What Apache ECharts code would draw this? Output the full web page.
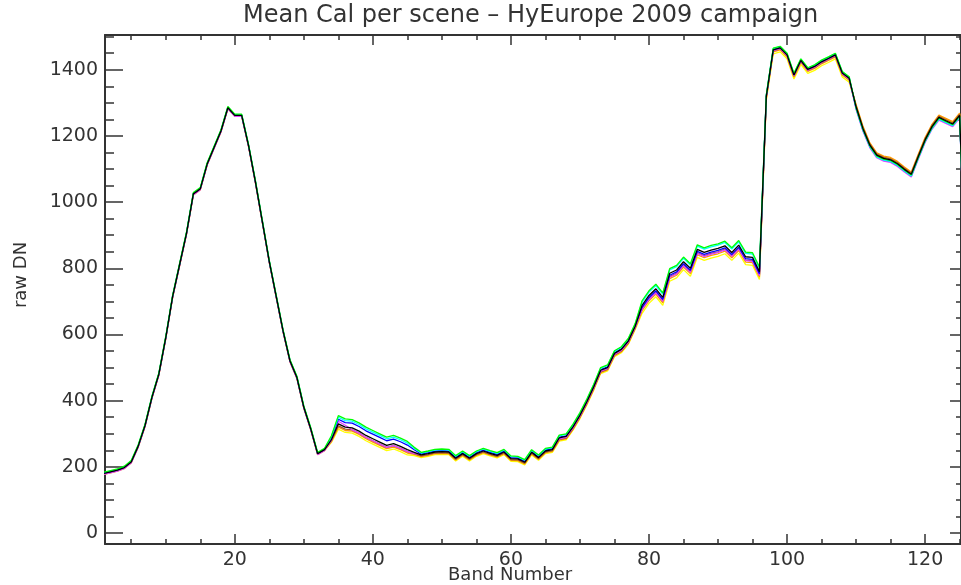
<!DOCTYPE html>
<html>
<head>
<meta charset="utf-8">
<script src="https://cdn.jsdelivr.net/npm/echarts@6/dist/echarts.min.js"></script>
<style>html,body{margin:0;padding:0;background:#fff;}#c{width:961px;height:585px;}</style>
</head>
<body>
<div id="c"></div>
<script>
// Band numbers 1..126
const bands = [1,2,3,4,5,6,7,8,9,10,11,12,13,14,15,16,17,18,19,20,21,22,23,24,25,26,27,28,29,30,31,32,33,34,35,36,37,38,39,40,41,42,43,44,45,46,47,48,49,50,51,52,53,54,55,56,57,58,59,60,61,62,63,64,65,66,67,68,69,70,71,72,73,74,75,76,77,78,79,80,81,82,83,84,85,86,87,88,89,90,91,92,93,94,95,96,97,98,99,100,101,102,103,104,105,106,107,108,109,110,111,112,113,114,115,116,117,118,119,120,121,122,123,124,125,126];

const xMajorTicks = [20,40,60,80,100,120];
const xMinorTicks = [5,10,15,25,30,35,45,50,55,65,70,75,85,90,95,105,110,115,125];
const yMajorTicks = [0,200,400,600,800,1000,1200,1400];
const yMinorTicks = [50,100,150,250,300,350,450,500,550,650,700,750,850,900,950,1050,1100,1150,1250,1300,1350,1450,1500];

const sceneBlack = [180,185,190,198,215,262,325,410,480,590,715,810,905,1025,1040,1115,1165,1215,1285,1262,1262,1170,1060,940,820,715,610,520,470,380,315,240,252,
282,330,320,318,308,295,285,275,265,270,262,252,244,
236,240,245,246,245,226,240,226,240,248,241,235,245,225,224,214,244,228,248,252,
288,292,321,356,397,442,492,500,543,555,580,625,
688,718,738,712,785,795,820,800,857,848,855,860,868,848,870,835,833,790,
1320,1460,1466,1445,1384,1428,1401,1410,1424,1434,1445,1390,1374,
1288,1222,1172,1142,1132,1128,1116,1099,1084,1137,1188,1228,1256,1246,1236,1262,700];

const sceneGreen = [184,189,194,202,219,266,329,414,484,594,719,814,909,1029,1044,1119,1169,1219,1289,1266,1266,1174,1064,944,824,719,614,524,474,384,319,244,256,
294,355,345,343,333,320,310,300,290,295,287,277,259,
244,248,253,254,253,234,248,234,248,256,249,243,253,233,232,222,252,236,256,260,
296,300,329,364,405,450,500,508,551,563,588,633,
702,732,752,726,799,809,834,814,871,862,869,874,882,862,884,849,847,804,
1325,1465,1471,1450,1389,1433,1406,1415,1429,1439,1450,1395,1379,
1286,1220,1170,1140,1130,1126,1114,1097,1082,1135,1186,1226,1254,1244,1234,1260,698];

const sceneCyan = [182,187,192,200,217,264,327,412,482,592,717,812,907,1027,1042,1117,1167,1217,1287,1264,1264,1172,1062,942,822,717,612,522,472,382,317,242,254,
292,350,340,338,328,315,305,295,285,290,282,272,256,
242,246,251,252,251,232,246,232,246,254,247,241,251,231,230,220,250,234,254,258,
294,298,327,362,403,448,498,506,549,561,586,631,
698,728,748,722,795,805,830,810,867,858,865,870,878,858,880,845,843,800,
1324,1464,1470,1449,1388,1432,1405,1414,1428,1438,1449,1394,1378,
1283,1217,1167,1137,1127,1123,1111,1094,1079,1132,1183,1223,1251,1241,1231,1257,695];

const sceneBlue = [181,186,191,199,216,263,326,411,481,591,716,811,906,1026,1041,1116,1166,1216,1286,1263,1263,1171,1061,941,821,716,611,521,471,381,316,241,253,
289,344,334,332,322,309,299,289,279,284,276,266,252,
239,243,248,249,248,229,243,229,243,251,244,238,248,228,227,217,247,231,251,255,
290,294,323,358,399,444,494,502,545,557,582,627,
682,712,732,706,779,789,814,794,851,842,849,854,862,842,864,829,827,784,
1322,1462,1468,1447,1386,1430,1403,1412,1426,1436,1447,1392,1376,
1284,1218,1168,1138,1128,1124,1112,1095,1080,1133,1184,1224,1252,1242,1232,1258,696];

const sceneMagenta = [177,182,187,195,212,259,322,407,477,587,712,807,902,1022,1037,1112,1162,1212,1282,1259,1259,1167,1057,937,817,712,607,517,467,377,312,237,249,
280,338,326,312,302,289,279,269,259,264,256,246,240,
238,242,247,248,247,228,242,228,242,250,243,237,247,227,226,216,246,230,250,254,
285,289,318,353,394,439,489,497,540,552,577,622,
676,706,726,700,773,783,808,788,845,836,843,848,856,836,858,823,821,778,
1318,1458,1464,1443,1382,1426,1399,1408,1422,1432,1443,1388,1372,
1280,1214,1164,1134,1124,1120,1108,1091,1076,1129,1180,1220,1248,1238,1228,1254,692];

const sceneBrown = [179,184,189,197,214,261,324,409,479,589,714,809,904,1024,1039,1114,1164,1214,1284,1261,1261,1169,1059,939,819,714,609,519,469,379,314,239,251,
279,324,314,312,302,289,279,269,259,264,256,246,240,
233,237,242,243,242,223,237,223,237,245,238,232,242,222,221,211,241,225,245,249,
283,287,316,351,392,437,487,495,538,550,575,620,
678,708,728,702,775,785,810,790,847,838,845,850,858,838,860,825,823,780,
1317,1457,1463,1442,1381,1425,1398,1407,1421,1431,1442,1387,1371,
1291,1225,1175,1145,1135,1131,1119,1102,1087,1140,1191,1231,1259,1249,1239,1265,703];

const sceneOrange = [178,183,188,196,213,260,323,408,478,588,713,808,903,1023,1038,1113,1163,1213,1283,1260,1260,1168,1058,938,818,713,608,518,468,378,313,238,250,
277,320,310,308,298,285,275,265,255,260,252,242,238,
231,235,240,241,240,221,235,221,235,243,236,230,240,220,219,209,239,223,243,247,
281,285,314,349,390,435,485,493,536,548,573,618,
672,702,722,696,769,779,804,784,841,832,839,844,852,832,854,819,817,774,
1314,1454,1460,1439,1378,1422,1395,1404,1418,1428,1439,1384,1368,
1295,1229,1179,1149,1139,1135,1123,1106,1091,1144,1195,1235,1263,1253,1243,1269,707];

const sceneYellow = [177,182,187,195,212,259,322,407,477,587,712,807,902,1022,1037,1112,1162,1212,1282,1259,1259,1167,1057,937,817,712,607,517,467,377,312,237,249,
274,314,304,302,292,279,269,259,249,254,246,236,234,
228,232,237,238,237,218,232,218,232,240,233,227,237,217,216,206,236,220,240,244,
278,282,311,346,387,432,482,490,533,545,570,615,
664,694,714,688,761,771,796,776,833,824,831,836,844,824,846,811,809,766,
1308,1448,1454,1433,1372,1416,1389,1398,1412,1422,1433,1378,1362,
1292,1226,1176,1146,1136,1132,1120,1103,1088,1141,1192,1232,1260,1250,1240,1266,704];

const seriesList = [
  {name:'yellow', color:'#ffff00', data: sceneYellow},
  {name:'orange', color:'#ff9900', data: sceneOrange},
  {name:'brown', color:'#a0522d', data: sceneBrown},
  {name:'magenta', color:'#e040ff', data: sceneMagenta},
  {name:'blue', color:'#0000ff', data: sceneBlue},
  {name:'cyan', color:'#00ffff', data: sceneCyan},
  {name:'green', color:'#00ff00', data: sceneGreen},
  {name:'black', color:'#000000', data: sceneBlack}
];

const axisColor = '#333333';
const labelFont = {fontFamily:'DejaVu Sans', fontSize:19, color:'#333333'};
const X_MIN = 1.2, X_MAX = 125.2, Y_MIN = -33, Y_MAX = 1505;

function xAxisDef(pos, major, showLabel, showLine, len) {
  return {
    type:'value', position:pos, min:X_MIN, max:X_MAX,
    axisLine:{show:showLine, onZero:false, lineStyle:{color:axisColor, width:2}},
    axisTick:{show:true, inside:true, length:len, customValues: major, lineStyle:{color:axisColor, width:1.5}},
    axisLabel:{show:showLabel, customValues: major, margin:7, formatter: v => String(v), ...labelFont},
    splitLine:{show:false}
  };
}
function yAxisDef(pos, major, showLabel, showLine, len) {
  return {
    type:'value', position:pos, min:Y_MIN, max:Y_MAX,
    axisLine:{show:showLine, onZero:false, lineStyle:{color:axisColor, width:2}},
    axisTick:{show:true, inside:true, length:len, customValues: major, lineStyle:{color:axisColor, width:1.5}},
    axisLabel:{show:showLabel, customValues: major, margin:7, formatter: v => String(v), ...labelFont},
    splitLine:{show:false}
  };
}

const chart = echarts.init(document.getElementById('c'), null, {renderer:'canvas'});
chart.setOption({
  animation:false,
  backgroundColor:'#ffffff',
  grid:{left:105, right:0, top:35, bottom:41, containLabel:false},
  xAxis:[
    xAxisDef('bottom', xMajorTicks, true, true, 10),
    xAxisDef('bottom', xMinorTicks, false, false, 5),
    xAxisDef('top', xMajorTicks, false, true, 10),
    xAxisDef('top', xMinorTicks, false, false, 5)
  ],
  yAxis:[
    yAxisDef('left', yMajorTicks, true, true, 18),
    yAxisDef('left', yMinorTicks, false, false, 9),
    yAxisDef('right', yMajorTicks, false, true, 11),
    yAxisDef('right', yMinorTicks, false, false, 5)
  ],
  graphic:[
    {type:'text', left:243, top:4, style:{text:'Mean Cal per scene – HyEurope 2009 campaign', fontFamily:'DejaVu Sans', fontSize:24, fill:'#333333'}},
    {type:'text', left:448, top:566, style:{text:'Band Number', fontFamily:'DejaVu Sans', fontSize:18, fill:'#333333'}},
    {type:'text', x:12, y:275, rotation:Math.PI/2, style:{text:'raw DN', fontFamily:'DejaVu Sans', fontSize:18, fill:'#333333', align:'center', verticalAlign:'top'}}
  ],
  series: seriesList.map(s => ({
    type:'line', name:s.name, xAxisIndex:0, yAxisIndex:0,
    showSymbol:false, symbol:'none', silent:true,
    lineStyle:{color:s.color, width:1.3},
    data: bands.map((b,i) => [b, s.data[i]])
  }))
});
</script>
</body>
</html>
